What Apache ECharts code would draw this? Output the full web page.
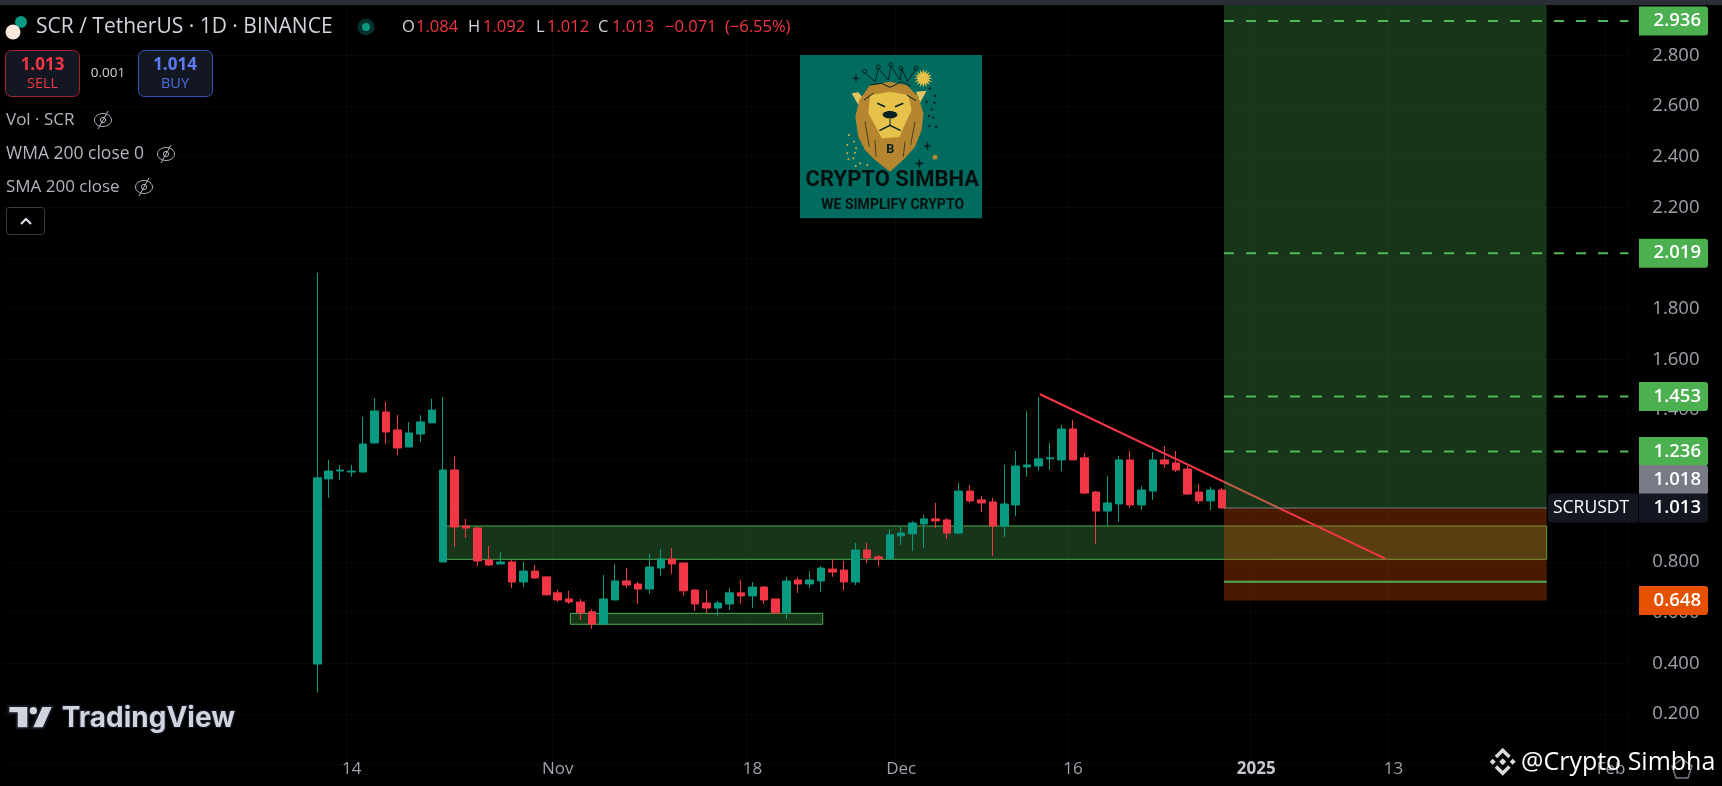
<!DOCTYPE html>
<html><head><meta charset="utf-8">
<style>html,body{margin:0;padding:0;background:#000}#c{width:1722px;height:786px}</style>
<script src="https://cdn.jsdelivr.net/npm/echarts@6/dist/echarts.min.js"></script>
</head><body><div id="c"></div>
<script>
// ---------- data (open, close, low, high) ----------
const opens=[0.397,1.128,1.159,1.155,1.155,1.270,1.392,1.321,1.254,1.305,1.349,0.800,1.163,0.942,0.934,0.808,0.792,0.800,0.721,0.764,0.741,0.678,0.654,0.642,0.603,0.555,0.650,0.725,0.713,0.693,0.776,0.812,0.796,0.689,0.638,0.618,0.634,0.678,0.666,0.701,0.654,0.599,0.729,0.713,0.725,0.772,0.768,0.721,0.847,0.820,0.812,0.903,0.911,0.950,0.970,0.966,0.914,1.080,1.045,1.037,0.942,1.025,1.175,1.179,1.207,1.203,1.325,1.211,1.076,1.001,1.029,1.203,1.025,1.080,1.203,1.191,1.167,1.076,1.041,1.084];
const closes=[1.132,1.159,1.163,1.159,1.266,1.396,1.313,1.250,1.309,1.353,1.400,1.163,0.938,0.934,0.804,0.788,0.800,0.721,0.764,0.737,0.670,0.650,0.642,0.599,0.555,0.654,0.725,0.709,0.693,0.780,0.812,0.792,0.686,0.634,0.618,0.638,0.678,0.666,0.701,0.650,0.599,0.725,0.713,0.729,0.776,0.760,0.721,0.847,0.816,0.812,0.907,0.914,0.954,0.970,0.962,0.914,1.080,1.041,1.033,0.942,1.029,1.179,1.183,1.207,1.211,1.325,1.203,1.072,1.001,1.033,1.203,1.025,1.084,1.203,1.187,1.163,1.068,1.041,1.084,1.013];
const lows=[0.284,1.053,1.124,1.136,1.155,1.266,1.266,1.222,1.254,1.274,1.349,0.800,0.859,0.895,0.784,0.784,0.792,0.697,0.701,0.733,0.670,0.642,0.634,0.571,0.536,0.555,0.650,0.697,0.634,0.674,0.745,0.753,0.666,0.607,0.599,0.587,0.610,0.634,0.618,0.634,0.595,0.575,0.678,0.697,0.682,0.741,0.689,0.709,0.796,0.784,0.812,0.867,0.843,0.855,0.934,0.891,0.911,1.033,0.997,0.824,0.899,0.982,1.136,1.159,1.163,1.159,1.203,1.068,0.871,0.942,0.958,1.013,1.005,1.045,1.171,1.155,1.064,1.029,1.005,1.012];
const highs=[1.941,1.203,1.183,1.183,1.372,1.448,1.432,1.380,1.353,1.380,1.444,1.451,1.219,0.970,0.938,0.863,0.840,0.808,0.800,0.788,0.741,0.690,0.686,0.654,0.614,0.749,0.792,0.776,0.721,0.832,0.851,0.855,0.796,0.693,0.689,0.646,0.697,0.729,0.721,0.705,0.654,0.741,0.741,0.764,0.784,0.812,0.804,0.875,0.875,0.828,0.930,0.938,0.962,0.986,1.033,0.974,1.112,1.104,1.061,1.053,1.183,1.238,1.396,1.451,1.270,1.341,1.361,1.230,1.080,1.140,1.218,1.238,1.100,1.234,1.258,1.238,1.179,1.108,1.096,1.092];
// x position on the day scale = days since the hidden left edge of the time axis
const firstDay='2024-09-14', dayCount=142, firstCandleIndex=27;
const tickLabels={'10-14':'14','11-01':'Nov','11-18':'18','12-01':'Dec','12-16':'16','01-01':'2025','01-13':'13','02-01':'Feb'};
const priceTicks={min:0,max:3,interval:0.2};
const targets=[2.936,2.019,1.453,1.236];
const stopPrice=0.648, entryPrice=1.013, midPrice=1.018, innerLevel=0.722, topPrice=3;
const toolX=[106.69,134.87];
const demandZone=[38.5,134.87,0.942,0.8105];
const baseZone=[49.6,71.64,0.597,0.554];
const trendLine=[[90.62,1.462],[120.81,0.8118]];
const tags=[[2.936,'2.936'],[2.019,'2.019'],[1.453,'1.453'],[1.236,'1.236'],[1.018,'1.018'],[1.013,'1.013'],[0.648,'0.648']];

// ---------- colours ----------
const UP='#089981',DOWN='#f23645',GREEN='#4caf50',AXIS='#9ea1ab',TXT='#b2b5be';
const F='"Open Sans"';
const tagColor={'2.936':GREEN,'2.019':GREEN,'1.453':GREEN,'1.236':GREEN,'1.018':'#787b86','1.013':'#131722','0.648':'#e65100'};

const pad=n=>String(n).padStart(2,'0');
const categories=[];
{const d=new Date(firstDay+'T00:00:00Z');for(let i=0;i<dayCount;i++){categories.push(pad(d.getUTCMonth()+1)+'-'+pad(d.getUTCDate()));d.setUTCDate(d.getUTCDate()+1);}}
const candleData=categories.map((c,i)=>{const k=i-firstCandleIndex;return k>=0&&k<opens.length?[opens[k],closes[k],lows[k],highs[k]]:'-';});

const rectRender=(fill,stroke)=>(params,api)=>{
  const a=api.coord([api.value(0),api.value(2)]),b=api.coord([api.value(1),api.value(3)]);
  return {type:'rect',shape:{x:a[0],y:a[1],width:b[0]-a[0],height:b[1]-a[1]},style:{fill,stroke:stroke||null,lineWidth:1}};
};
const rectSeries=(rows,z,fill,stroke)=>({type:'custom',xAxisIndex:1,yAxisIndex:0,z,silent:true,clip:false,
  encode:{x:[0,1],y:[2,3]},data:rows,renderItem:rectRender(fill,stroke)});
const lineSeries=(pts,z,color,width,type)=>({type:'line',xAxisIndex:1,yAxisIndex:0,z,silent:true,symbol:'none',data:pts,
  lineStyle:{color,width,type:type||'solid'}});

const series=[
  rectSeries([demandZone,baseZone],1,'rgba(76,175,80,0.3)',GREEN),
  rectSeries([[toolX[0],toolX[1],entryPrice,stopPrice]],2,'rgba(230,81,0,0.32)'),
  lineSeries(trendLine,3,DOWN,2),
  rectSeries([[toolX[0],toolX[1],topPrice,entryPrice]],4,'rgba(76,175,80,0.3)'),
  {type:'candlestick',xAxisIndex:0,yAxisIndex:0,z:5,silent:true,barWidth:8,data:candleData,
   itemStyle:{color:UP,color0:DOWN,borderColor:UP,borderColor0:DOWN,borderWidth:1}},
  lineSeries([[toolX[0],entryPrice],[toolX[1],entryPrice]],6,'#787b86',1),
  lineSeries([[toolX[0],innerLevel],[toolX[1],innerLevel]],6,GREEN,2),
  ...targets.map(t=>lineSeries([[toolX[0],t],[dayCount,t]],6,'#4fb855',2,[10,12])),
  {type:'custom',xAxisIndex:1,yAxisIndex:0,z:20,silent:true,clip:false,encode:{x:0,y:1},
   data:tags.map(t=>[dayCount,t[0],t[1]]),
   renderItem(params,api){
     const lab=tags[params.dataIndex][1],p=api.coord([dayCount,api.value(1)]);
     const y=p[1]+(lab==='1.018'?-27:0),h=29,x=1639,w=69;
     const kids=[{type:'rect',shape:{x,y:y-h/2,width:w,height:h,r:[0,3,3,0]},style:{fill:tagColor[lab]}},
       {type:'text',style:{text:lab,x:1701,y:y,fill:'#fff',font:'600 18.5px '+F,align:'right',verticalAlign:'middle',textAlign:'right',textVerticalAlign:'middle'}}];
     if(lab==='1.013'){kids.push({type:'rect',shape:{x:1548,y:y-h/2,width:90,height:h,r:[3,0,0,3]},style:{fill:'#131722'}},
       {type:'text',style:{text:'SCRUSDT',x:1553,y:y,fill:'#fff',font:'500 17.5px '+F,align:'left',verticalAlign:'middle',textAlign:'left',textVerticalAlign:'middle'}});}
     return {type:'group',children:kids};
   }}
];

// ---------- overlay helpers ----------
const Z=100;
const T=(text,x,y,fill,font,align)=>({type:'text',z:Z,style:{text,x,y,fill,font,align:align||'left',verticalAlign:'middle',textAlign:align||'left',textVerticalAlign:'middle'}});
const R=(x,y,w,h,fill,stroke,r)=>({type:'rect',z:Z,shape:{x,y,width:w,height:h,r:r||0},style:{fill:fill||'none',stroke:stroke||null,lineWidth:1}});
const C=(cx,cy,r,fill,stroke,lw)=>({type:'circle',z:Z,shape:{cx,cy,r},style:{fill:fill||'none',stroke:stroke||null,lineWidth:lw||1}});
const L=(pts,stroke,lw)=>({type:'polyline',z:Z,shape:{points:pts},style:{fill:'none',stroke,lineWidth:lw||1}});
const P=(pts,fill,stroke,lw)=>({type:'polygon',z:Z,shape:{points:pts},style:{fill:fill||'none',stroke:stroke||null,lineWidth:lw||1}});
const G=(x,y,s,children)=>({type:'group',x,y,scaleX:s,scaleY:s,z:Z,children});
const star=(x,y,r,f)=>P([[x,y-r],[x+r*.2,y-r*.2],[x+r,y],[x+r*.2,y+r*.2],[x,y+r],[x-r*.2,y+r*.2],[x-r,y],[x-r*.2,y-r*.2]],f);
const burst=(x,y,r0,r1,n,f)=>{const a=[];for(let i=0;i<n*2;i++){const t=i*Math.PI/n,r=i%2?r0:r1;a.push([x+r*Math.cos(t),y+r*Math.sin(t)]);}return P(a,f);};
const eye=(x,y)=>G(x,y,1,[
  {type:'ellipse',z:Z,shape:{cx:0,cy:0,rx:8.5,ry:6.5},style:{fill:'none',stroke:TXT,lineWidth:1}},
  C(0,0,2.6,null,TXT),L([[-5,9],[5,-9]],TXT,1)]);

const INK='#06211f',GOLD='#b5862f',FACE='#e6c24b';
const blackDots=[[420,115],[435,138],[410,155],[433,158],[425,178],[417,198],[430,203],[418,228],[438,230]];
const goldDots=[[177,255],[192,275],[172,285],[198,295],[172,310],[195,308],[190,325],[175,328],[210,340],[197,348],[232,345],[218,362]];
const logo=G(790,50,1/3,[
  R(30,15,546,490,'#006b5e'),
  P([[205,127],[185,130],[205,165],[225,150]],'#e3c564'),
  P([[410,122],[378,125],[390,158]],'#e3c564'),
  P([[300,95],[240,105],[208,150],[196,200],[205,260],[225,300],[255,330],[300,365],[345,325],[375,290],[395,240],[400,190],[385,140],[350,105]],GOLD),
  P([[240,135],[300,125],[355,135],[365,180],[345,222],[328,262],[275,265],[260,235],[235,190]],FACE),
  L([[240,105],[275,100],[300,112],[335,95],[362,108]],INK,3),
  L([[222,150],[250,130]],INK,3),L([[350,135],[378,152]],INK,3),
  L([[262,160],[285,170]],INK,5),L([[340,160],[315,170]],INK,5),
  {type:'ellipse',z:Z,shape:{cx:300,cy:194,rx:22,ry:11},style:{fill:INK}},
  L([[300,205],[300,225]],INK,3),L([[268,242],[300,226],[332,242]],INK,4),
  L([[225,215],[238,290]],INK,2),L([[255,270],[258,320]],INK,2),L([[345,275],[340,320]],INK,2),L([[375,215],[362,285]],INK,2),
  T('B',301,298,INK,'bold 38px Roboto','center'),
  L([[224,68],[255,95],[265,55],[295,90],[303,47],[330,90],[335,55],[352,95],[378,57]],INK,3),
  C(224,64,6,null,INK,3),C(265,51,6,null,INK,3),C(303,44,6,null,INK,3),C(333,55,6,null,INK,3),C(378,54,6,null,INK,3),
  burst(400,85,16,28,16,'#e8c24a'),
  star(198,85,14,INK),star(412,288,14,INK),star(388,340,16,INK),burst(435,322,5,11,8,'#c98a2a'),
  ...blackDots.map(d=>C(d[0],d[1],3.5,INK)),
  ...goldDots.map(d=>C(d[0],d[1],3,'#d9b43f')),
  T('CRYPTO SIMBHA',307,392,'#08100f','bold 66px Roboto','center'),
  T('WE SIMPLIFY CRYPTO',308,465,'#08100f','bold 42px Roboto','center')
]);
const tvLogo=G(0,680,1/3,[
  P([[25,78],[85,78],[85,145],[50,145],[50,100],[25,100]],'#d1d4dc','#131722',6),
  C(100,92,13,'#d1d4dc','#131722',4),
  P([[125,78],[160,78],[130,145],[95,145]],'#d1d4dc','#131722',6),
  {type:'text',z:Z,style:{text:'TradingView',x:185,y:117,fill:'#d1d4dc',stroke:'#131722',lineWidth:8,font:'700 84px Inter',align:'left',verticalAlign:'middle',textAlign:'left',textVerticalAlign:'middle'}}
]);
const bn='#d9d9d9';
const binance=G(1502.7,761.7,1,[
  P([[0,-3.5],[3.5,0],[0,3.5],[-3.5,0]],bn),
  P([[-10,-3],[-7,0],[-10,3],[-13,0]],bn),P([[10,-3],[13,0],[10,3],[7,0]],bn),
  P([[0,-14],[8,-6],[5.5,-3.5],[0,-9],[-5.5,-3.5],[-8,-6]],bn),
  P([[0,14],[8,6],[5.5,3.5],[0,9],[-5.5,3.5],[-8,6]],bn)
]);
const graphic=[
  R(0,0,1722,5,'#2a2d35'),
  C(21,22,6,UP),C(13,32,7.5,'#fbe8dc'),
  T('SCR / TetherUS · 1D · BINANCE',36,27,'#d1d4dc','21px '+F),
  C(366,27,8.5,'#06302b'),C(366,27,4,'#089981'),
  T('O',402,27,'#d1d4dc','500 16.5px '+F),T('1.084',416,27,DOWN,'16.5px '+F),
  T('H',468,27,'#d1d4dc','500 16.5px '+F),T('1.092',483,27,DOWN,'16.5px '+F),
  T('L',536,27,'#d1d4dc','500 16.5px '+F),T('1.012',547,27,DOWN,'16.5px '+F),
  T('C',598,27,'#d1d4dc','500 16.5px '+F),T('1.013',612,27,DOWN,'16.5px '+F),
  T('−0.071',665,27,DOWN,'16.5px '+F),T('(−6.55%)',725,27,DOWN,'16.5px '+F),
  R(5.5,50.5,74,46,'#131722','#a3222c',6),
  T('1.013',42.5,65,DOWN,'bold 17px '+F,'center'),T('SELL',42.5,84,DOWN,'14.5px '+F,'center'),
  T('0.001',108,73,'#d1d4dc','13.5px '+F,'center'),
  R(138.5,50.5,74,46,'#131722','#3453b5',6),
  T('1.014',175,65,'#5b7cf5','bold 17px '+F,'center'),T('BUY',175,84,'#4d6fe8','14.5px '+F,'center'),
  T('Vol · SCR',6,120,TXT,'17px '+F),eye(103,120),
  T('WMA 200 close 0',6,154,TXT,'17.5px '+F),eye(166,154),
  T('SMA 200 close',6,187,TXT,'17px '+F),eye(144,187),
  R(6.5,207.5,38,27,'#000','#3a3d45',3),L([[21,224],[26,219],[31,224]],'#e0e3eb',2),
  logo,tvLogo,
  P([[1682,759],[1692,766],[1688,778],[1676,778],[1672,766]],null,'#787b86',1.5),
  binance,
  T('@Crypto Simbha',1521,763,'#fff','25px '+F)
];

const chart=echarts.init(document.getElementById('c'),null,{renderer:'canvas'});
const isTick=v=>tickLabels[v]!==undefined;
chart.setOption({
  animation:false,backgroundColor:'#000',tooltip:{show:false},legend:{show:false},
  grid:{left:2.42,top:4.7,width:1625.9,height:759.9,containLabel:false},
  xAxis:[
   {type:'category',data:categories,boundaryGap:true,axisLine:{show:false},axisTick:{show:false},
    splitLine:{show:true,interval:(i,v)=>isTick(v),lineStyle:{color:'#080808'}},
    axisLabel:{interval:(i,v)=>isTick(v),margin:4.5,verticalAlign:'middle',color:AXIS,fontFamily:F,fontSize:17,hideOverlap:false,
      formatter:v=>v==='01-01'?'{b|2025}':(tickLabels[v]||''),rich:{b:{fontFamily:F,fontSize:17,fontWeight:'bold',color:'#c4c7d0'}}}},
   {type:'value',min:0,max:dayCount,show:false,splitLine:{show:false}}
  ],
  yAxis:{type:'value',position:'right',min:priceTicks.min,max:priceTicks.max,interval:priceTicks.interval,
    axisLine:{show:false},axisTick:{show:false},splitLine:{show:true,lineStyle:{color:'#080808'}},
    axisLabel:{margin:24,color:AXIS,fontFamily:F,fontSize:18.5,showMinLabel:false,showMaxLabel:false,formatter:v=>v.toFixed(3)}},
  series,graphic:{elements:graphic}
});
</script></body></html>
